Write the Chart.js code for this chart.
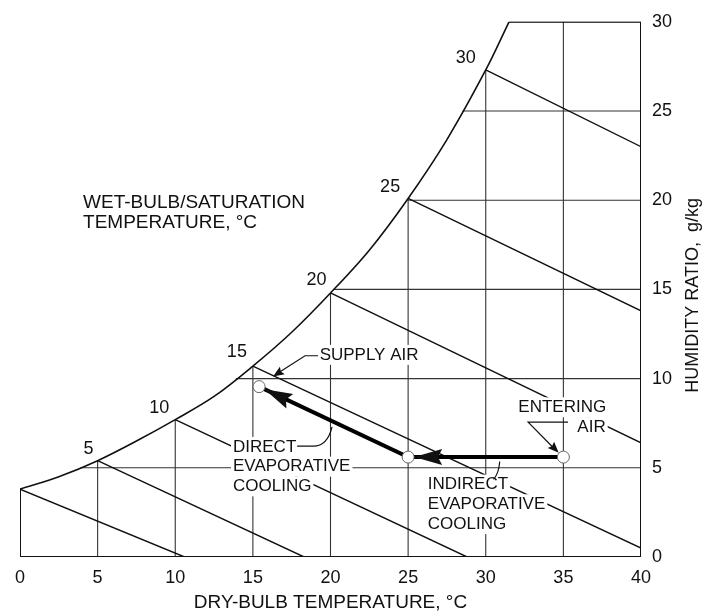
<!DOCTYPE html>
<html>
<head>
<meta charset="utf-8">
<script src="https://cdn.jsdelivr.net/npm/chart.js@4.4.1/dist/chart.umd.min.js"></script>
<style>
  html, body { margin: 0; padding: 0; background: #fff; }
  #wrap { width: 703px; height: 615px; position: relative; }
</style>
</head>
<body>
<div id="wrap"><canvas id="psychro"></canvas></div>
<script>
// Saturation curve: dry-bulb (°C) vs humidity ratio (g/kg)
const satTemps = [0, 2.5, 5, 7.5, 10, 12.5, 15, 17.5, 20, 22.5, 25, 27.5, 30, 31.5];
const satRatio = [3.8, 4.5, 5.4, 6.5, 7.7, 9.0, 10.7, 12.6, 14.8, 17.2, 20.1, 23.4, 27.3, 30.0];

// Constant wet-bulb lines, from the saturation curve down to the frame
const wbTemps = [0, 5, 10, 15, 20, 25, 30];
const wbStartRatio = [3.8, 5.4, 7.7, 10.7, 14.8, 20.1, 27.3];
const wbEndTemp = [10.6, 18.3, 28.8, 40, 40, 40, 40];
const wbEndRatio = [0, 0, 0, 0.5, 6.4, 13.8, 23.0];
const wbLabels = ['5', '10', '15', '20', '25', '30'];

// Grid lines stop where they meet the saturation curve
const gridTemps = [5, 10, 15, 20, 25, 30, 35];
const gridTempTop = [5.4, 7.7, 10.7, 14.8, 20.1, 27.3, 30];
const gridRatios = [5, 10, 15, 20, 25, 30];
const gridRatioStart = [3.9, 13.9, 20.2, 25.0, 28.5, 31.5];

// Chart frame (left edge below curve, bottom, right, top)
const frameTemps = [0, 0, 40, 40, 31.5];
const frameRatio = [3.8, 0, 0, 30, 30];

// Process: entering air -> indirect cooling -> direct cooling -> supply air
const processTemps = [35, 25, 15.4];
const processRatio = [5.6, 5.6, 9.55];

const xTickValues = [0, 5, 10, 15, 20, 25, 30, 35, 40];
const yTickValues = [0, 5, 10, 15, 20, 25, 30];

const INK = '#111';
const FONT = "'Liberation Sans', Arial, sans-serif";
Chart.defaults.font.family = FONT;
Chart.defaults.color = INK;

// join segments into one dataset, broken by null points
function segments(x0, y0, x1, y1) {
    const pts = [];
    for (let i = 0; i < x0.length; i++) {
        pts.push({x: x0[i], y: y0[i]}, {x: x1[i], y: y1[i]}, {x: x1[i], y: null});
    }
    return pts;
}
const zip = (xs, ys) => xs.map((v, i) => ({x: v, y: ys[i]}));

function arrowHead(ctx, tx, ty, fx, fy, len, half) {
    const a = Math.atan2(ty - fy, tx - fx);
    const c = Math.cos(a), s = Math.sin(a);
    ctx.beginPath();
    ctx.moveTo(tx, ty);
    ctx.lineTo(tx - len * c - half * s, ty - len * s + half * c);
    ctx.lineTo(tx - len * c * 0.85, ty - len * s * 0.85);
    ctx.lineTo(tx - len * c + half * s, ty - len * s - half * c);
    ctx.closePath();
    ctx.fill();
}

// labels, leaders and arrowheads, placed in data units
const annotate = {
    id: 'annotate',
    afterDatasetsDraw(chart) {
        const {ctx, scales: {x, y}} = chart;
        const px = v => x.getPixelForValue(v);
        const py = v => y.getPixelForValue(v);
        ctx.save();
        ctx.fillStyle = INK;
        ctx.strokeStyle = INK;

        // text blocks with white backing that hides the lines behind them
        const blocks = [
            {x: 4.06, y: 19.83, size: 19, mask: false, lines: ['WET-BULB/SATURATION', 'TEMPERATURE, °C']},
            {x: 19.3, y: 11.33, size: 17, mask: true, lines: ['SUPPLY AIR']},
            {x: 13.72, y: 6.17, size: 17, mask: true, lines: ['DIRECT', 'EVAPORATIVE', 'COOLING']},
            {x: 26.27, y: 4.06, size: 17, mask: true, lines: ['INDIRECT', 'EVAPORATIVE', 'COOLING']},
            {x: 32.1, y: 8.39, size: 17, mask: true, lines: ['ENTERING']},
            {x: 35.9, y: 7.28, size: 17, mask: true, lines: ['AIR']}
        ];
        ctx.textBaseline = 'middle';
        ctx.textAlign = 'left';
        blocks.forEach(b => {
            ctx.font = b.size + 'px ' + FONT;
            b.lines.forEach((t, i) => {
                const lx = px(b.x), ly = py(b.y) + i * 19.7;
                if (b.mask) {
                    const w = ctx.measureText(t).width;
                    ctx.fillStyle = '#fff';
                    ctx.fillRect(lx - 2, ly - 10, w + 4, 20);
                    ctx.fillStyle = INK;
                }
                ctx.fillText(t, lx, ly);
            });
        });

        // leader lines
        ctx.lineWidth = 1.2;
        ctx.beginPath();
        ctx.moveTo(px(19.2), py(11.28));
        ctx.lineTo(px(18.36), py(11.28));
        ctx.lineTo(px(16.6), py(10.3));
        ctx.stroke();
        arrowHead(ctx, px(16.3), py(10.12), px(18.36), py(11.28), 11, 4.5);

        ctx.beginPath();
        ctx.moveTo(px(17.85), py(6.22));
        ctx.lineTo(px(18.9), py(6.22));
        ctx.quadraticCurveTo(px(19.8), py(6.22), px(20.1), py(7.3));
        ctx.stroke();

        ctx.beginPath();
        ctx.moveTo(px(30.5), py(4.35));
        ctx.quadraticCurveTo(px(30.85), py(4.7), px(30.9), py(5.35));
        ctx.stroke();

        ctx.beginPath();
        ctx.moveTo(px(35.3), py(7.56));
        ctx.lineTo(px(32.73), py(7.56));
        ctx.lineTo(px(34.5), py(6.0));
        ctx.stroke();
        arrowHead(ctx, px(34.7), py(5.85), px(32.73), py(7.56), 11, 4.5);

        // thick process arrowheads, tips on the circle edges
        const r = 6;
        for (let i = 1; i < processTemps.length; i++) {
            const tx = px(processTemps[i]), ty = py(processRatio[i]);
            const fx = px(processTemps[i - 1]), fy = py(processRatio[i - 1]);
            const d = Math.hypot(fx - tx, fy - ty);
            arrowHead(ctx, tx + (fx - tx) / d * r, ty + (fy - ty) / d * r, fx, fy, 28, 8);
        }

        // wet-bulb temperature labels beside the saturation curve
        const offsets = [[-9, -12], [-16, -12], [-16, -14], [-14, -13], [-18, -11], [-20, -12]];
        ctx.font = '18px ' + FONT;
        ctx.textAlign = 'center';
        wbLabels.forEach((t, i) => {
            ctx.fillText(t, px(wbTemps[i + 1]) + offsets[i][0], py(wbStartRatio[i + 1]) + offsets[i][1]);
        });

        // right-hand axis title, reading bottom to top
        ctx.font = '18px ' + FONT;
        ctx.translate(693, (chart.chartArea.top + chart.chartArea.bottom) / 2 + 6);
        ctx.rotate(-Math.PI / 2);
        ctx.fillText('HUMIDITY RATIO,  g/kg', 0, 0);
        ctx.restore();
    }
};

new Chart(document.getElementById('psychro'), {
    type: 'scatter',
    data: {
        datasets: [
            {
                label: 'process points',
                data: zip(processTemps, processRatio),
                pointRadius: 6,
                pointBorderWidth: 1,
                pointBorderColor: '#666',
                pointBackgroundColor: '#fff',
                showLine: false,
                order: 0
            },
            {
                label: 'process',
                data: zip(processTemps, processRatio),
                showLine: true,
                borderColor: '#000',
                borderWidth: 4,
                pointRadius: 0,
                order: 1
            },
            {
                label: 'saturation',
                data: zip(satTemps, satRatio),
                showLine: true,
                tension: 0.35,
                borderColor: INK,
                borderWidth: 1.6,
                pointRadius: 0,
                order: 2
            },
            {
                label: 'wet-bulb',
                data: segments(wbTemps, wbStartRatio, wbEndTemp, wbEndRatio),
                showLine: true,
                spanGaps: false,
                borderColor: INK,
                borderWidth: 1.4,
                pointRadius: 0,
                order: 3
            },
            {
                label: 'frame',
                data: zip(frameTemps, frameRatio),
                showLine: true,
                borderColor: INK,
                borderWidth: 2,
                pointRadius: 0,
                order: 4
            },
            {
                label: 'grid dry-bulb',
                data: segments(gridTemps, gridTemps.map(() => 0), gridTemps, gridTempTop),
                showLine: true,
                spanGaps: false,
                borderColor: '#333',
                borderWidth: 1.1,
                pointRadius: 0,
                order: 5
            },
            {
                label: 'grid ratio',
                data: segments(gridRatioStart, gridRatios, gridRatios.map(() => 40), gridRatios),
                showLine: true,
                spanGaps: false,
                borderColor: '#333',
                borderWidth: 1.1,
                pointRadius: 0,
                order: 6
            }
        ]
    },
    options: {
        responsive: true,
        maintainAspectRatio: false,
        animation: false,
        layout: {padding: {left: 20, top: 17, right: 0, bottom: 0}},
        plugins: {legend: {display: false}, tooltip: {enabled: false}},
        scales: {
            x: {
                type: 'linear',
                position: 'bottom',
                min: 0,
                max: 40,
                afterBuildTicks: s => { s.ticks = xTickValues.map(v => ({value: v})); },
                afterFit: s => { s.height = 58; },
                grid: {display: false, drawTicks: false},
                border: {display: false},
                ticks: {font: {size: 18}, padding: 10, maxRotation: 0},
                title: {display: true, text: 'DRY-BULB TEMPERATURE, °C', font: {size: 19}, padding: {top: 0, bottom: 1}}
            },
            y: {
                type: 'linear',
                position: 'right',
                min: 0,
                max: 30,
                afterBuildTicks: s => { s.ticks = yTickValues.map(v => ({value: v})); },
                afterFit: s => { s.width = 62; },
                grid: {display: false, drawTicks: false},
                border: {display: false},
                ticks: {font: {size: 18}, padding: 11}
            }
        }
    },
    plugins: [annotate]
});
</script>
</body>
</html>
